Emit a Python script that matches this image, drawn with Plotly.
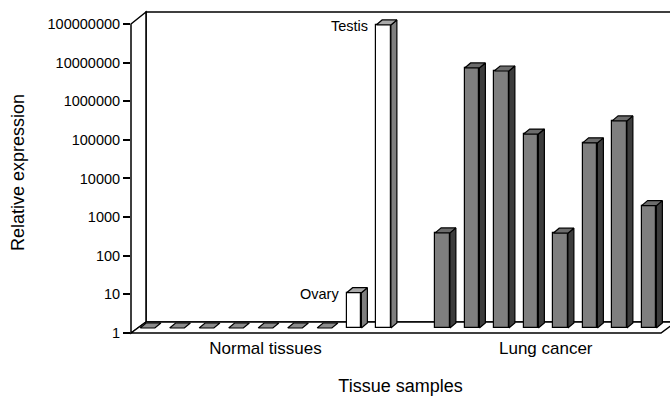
import numpy as np
import plotly.graph_objects as go

# ---------------- data ----------------
normal_samples = ["N1", "N2", "N3", "N4", "N5", "N6", "N7", "Ovary", "Testis"]
normal_values = [1, 1, 1, 1, 1, 1, 1, 8.2, 7.0e7]
lung_samples = ["L1", "L2", "L3", "L4", "L5", "L6", "L7", "L8"]
lung_values = [290, 5.4e6, 4.5e6, 1.05e5, 285, 6.2e4, 2.3e5, 1470]
group_labels = ["Normal tissues", "Lung cancer"]
labelled_samples = ["Ovary", "Testis"]
tick_values = [1, 10, 100, 1000, 10000, 100000, 1000000, 10000000, 100000000]
tick_labels = ["1", "10", "100", "1000", "10000", "100000", "1000000", "10000000", "100000000"]

# ---------------- layout geometry ----------------
W, H = 670, 400
L, R, T, B = 131, 0, 12, 67
PW, PH = W - L - R, H - T - B
SLOT_PX = 29.5
FIRST_PX = 147.5
xr0 = -(FIRST_PX - L) / SLOT_PX
xr1 = xr0 + PW / SLOT_PX
DEC_PX = 38.63
yr0, yr1 = 0.0, PH / DEC_PX

def fy(px):
    return 10 ** (px / DEC_PX)

def dxu(px):
    return px / SLOT_PX

def xp(px):
    return (px - L) / PW

def yp(py):
    return (T + PH - py) / PH

BAR_W = 0.5
BASE = fy(5)          # bars stand a little behind the front edge of the floor
DEPTH_X = dxu(6)
DEPTH_Y = fy(5)

normal_idx = list(range(len(normal_values)))
lung_idx = [len(normal_values) + 1 + k for k in range(len(lung_values))]

def faces(idx, vals):
    side_x, side_y, top_x, top_y = [], [], [], []
    for i, v in zip(idx, vals):
        top = BASE * v
        xl, xr = i - BAR_W / 2, i + BAR_W / 2
        if v > 1:
            side_x += [xr, xr + DEPTH_X, xr + DEPTH_X, xr, xr, None]
            side_y += [BASE, BASE * DEPTH_Y, top * DEPTH_Y, top, BASE, None]
        top_x += [xl, xr, xr + DEPTH_X, xl + DEPTH_X, xl, None]
        top_y += [top, top, top * DEPTH_Y, top * DEPTH_Y, top, None]
    return side_x, side_y, top_x, top_y

fig = go.Figure()

def add_bars(idx, vals, names, front, side, topc):
    fig.add_trace(go.Bar(
        x=idx, y=[BASE * v - BASE for v in vals], base=BASE, width=BAR_W,
        marker=dict(color=front, line=dict(color="black", width=1.2)),
        hovertext=names, showlegend=False))
    sx, sy, tx, ty = faces(idx, vals)
    fig.add_trace(go.Scatter(x=sx, y=sy, mode="lines", fill="toself", fillcolor=side,
                             line=dict(color="black", width=1.2), showlegend=False,
                             hoverinfo="skip"))
    fig.add_trace(go.Scatter(x=tx, y=ty, mode="lines", fill="toself", fillcolor=topc,
                             line=dict(color="black", width=1.2), showlegend=False,
                             hoverinfo="skip"))

flat_idx = [i for i, v in zip(normal_idx, normal_values) if v <= 1]
flat_vals = [v for v in normal_values if v <= 1]
tall_idx = [i for i, v in zip(normal_idx, normal_values) if v > 1]
tall_vals = [v for v in normal_values if v > 1]
tall_names = [n for n, v in zip(normal_samples, normal_values) if v > 1]

sx, sy, tx, ty = faces(flat_idx, flat_vals)
fig.add_trace(go.Scatter(x=tx, y=ty, mode="lines", fill="toself", fillcolor="#8c8c8c",
                         line=dict(color="black", width=1.2), showlegend=False,
                         hoverinfo="skip"))
add_bars(tall_idx, tall_vals, tall_names, "white", "#7f7f7f", "#a9a9a9")
add_bars(lung_idx, lung_values, lung_samples, "#7f7f7f", "#3c3c3c", "#6c6c6c")

# ---------------- frame (back wall, left wall, floor) ----------------
def path(pts):
    return "M " + " L ".join(f"{xp(a):.5f},{yp(b):.5f}" for a, b in pts) + " Z"

frame_line = dict(color="black", width=1.5)
shapes = [
    dict(type="path", xref="paper", yref="paper", layer="below",
         path=path([(146, 12), (700, 12), (700, 322), (146, 322)]),
         fillcolor="white", line=frame_line),
    dict(type="path", xref="paper", yref="paper", layer="below",
         path=path([(131, 24), (146, 12), (146, 322), (131, 333)]),
         fillcolor="white", line=frame_line),
    dict(type="path", xref="paper", yref="paper", layer="below",
         path=path([(131, 333), (146, 322), (676, 322), (661, 333)]),
         fillcolor="white", line=frame_line),
]

# ---------------- labels ----------------
annotations = []
for n, i, v in zip(normal_samples, normal_idx, normal_values):
    if n in labelled_samples:
        annotations.append(dict(
            x=i - BAR_W / 2, y=np.log10(BASE * v), xref="x", yref="y",
            text=n, showarrow=False, xanchor="right", yanchor="middle",
            xshift=-6, yshift=-1,
            font=dict(family="Liberation Sans, Arial", size=14.5, color="black")))

group_centers = [float(np.mean(normal_idx)), float(np.mean(lung_idx))]

fig.update_layout(
    width=W, height=H,
    margin=dict(l=L, r=R, t=T, b=B, pad=0, autoexpand=False),
    paper_bgcolor="white", plot_bgcolor="rgba(0,0,0,0)",
    bargap=0,
    shapes=shapes, annotations=annotations,
    font=dict(family="Liberation Sans, Arial", color="black"),
    xaxis=dict(range=[xr0, xr1], showgrid=False, zeroline=False, showline=False,
               automargin=False,
               tickvals=group_centers, ticktext=group_labels, ticks="",
               tickfont=dict(size=17), ticklabelstandoff=3,
               title=dict(text="Tissue samples", font=dict(size=18), standoff=22)),
    yaxis=dict(type="log", range=[yr0, yr1], showgrid=False, zeroline=False,
               showline=False, automargin=False,
               tickvals=tick_values, ticktext=tick_labels,
               ticks="outside", ticklen=7, tickwidth=1.5, tickcolor="black",
               tickfont=dict(size=14.5),
               title=dict(text="Relative expression", font=dict(size=18), standoff=18)),
)

fig.write_html("out.html", config={"displayModeBar": False},
               post_script="document.body.style.margin='0';document.body.style.overflow='hidden';")
